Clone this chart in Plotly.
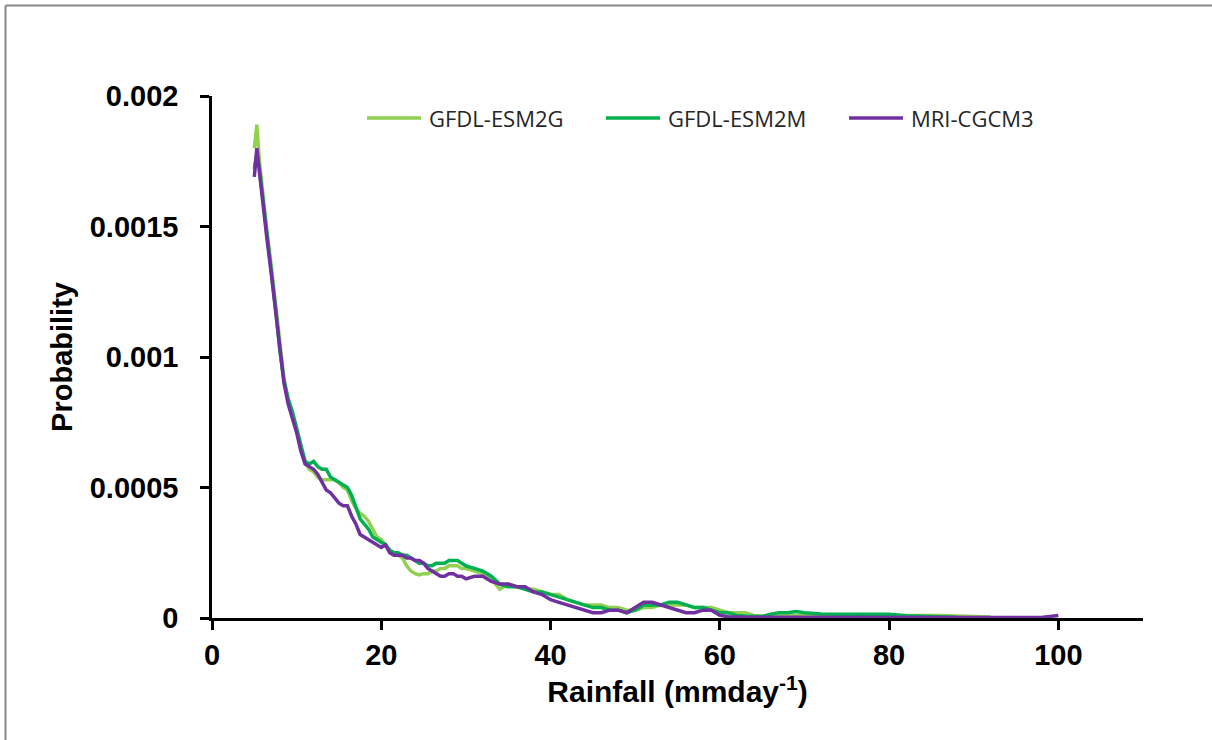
import plotly.graph_objects as go

# ---------------- data ----------------
rain = [5.0, 5.3, 5.6, 6.0, 6.5, 7.0, 7.5, 8.0, 8.5, 9.0, 9.5, 10.0, 10.5, 11.0, 11.5,
        12.0, 12.5, 13.0, 13.5, 14.0, 14.5, 15.0, 15.5, 16.0, 16.5, 17.0, 17.5, 18.0,
        18.5, 19.0, 19.5, 20.0, 20.5, 21.0, 21.5, 22.0, 22.5, 23.0, 23.5, 24.0, 24.5,
        25.0, 25.5, 26.0, 26.5, 27.0, 27.5, 28.0, 28.5, 29.0, 29.5, 30.0,
        31, 32, 33, 34, 35, 36, 37, 38, 39, 40, 41, 42, 43, 44, 45, 46, 47, 48, 49, 50,
        51, 52, 53, 54, 55, 56, 57, 58, 59, 60, 61, 62, 63, 64, 65, 66, 67, 68, 69, 70,
        72, 74, 76, 78, 80, 82, 84, 86, 88, 90, 92, 94, 96, 98, 100]

gfdl_esm2g = [0.00180, 0.00189, 0.00175, 0.00162, 0.00148, 0.00135, 0.00121, 0.00106, 0.00092, 0.00083,
              0.00078, 0.00072, 0.00065, 0.00060, 0.00057, 0.00056, 0.00054, 0.00053, 0.00053, 0.00053,
              0.00053, 0.00052, 0.00050, 0.00049, 0.00045, 0.00042, 0.00040, 0.00039, 0.00037, 0.00034,
              0.00031, 0.00030, 0.00028, 0.00026, 0.00025, 0.00024, 0.00023, 0.00020, 0.00018, 0.00017,
              0.000165, 0.00017, 0.00017, 0.00018, 0.00018, 0.00019, 0.00019, 0.00020, 0.00020, 0.00020,
              0.00019, 0.00019,
              0.00018, 0.00017, 0.00015, 0.00011, 0.00013, 0.00012, 0.00011, 0.00011, 0.00010, 0.00009,
              0.00009, 0.00007, 0.00006, 0.00005, 0.00005, 0.00005, 0.00004, 0.00004, 0.00003, 0.00003,
              0.00004, 0.00004, 0.00005, 0.00005, 0.00005, 0.00005, 0.00004, 0.00004, 0.00004, 0.00003,
              0.00002, 0.00002, 0.00002, 0.00001, 0.000008, 0.000005, 0.000008, 0.00001, 0.00001, 0.00001,
              0.00001, 0.000012, 0.000012, 0.00001, 0.000012, 0.00001, 0.000012, 0.00001, 0.000008, 0.000006,
              0.000004, None, None, None, None]

gfdl_esm2m = [0.00172, 0.00178, 0.00172, 0.00160, 0.00146, 0.00133, 0.00119, 0.00103, 0.00091, 0.00084,
              0.00079, 0.00073, 0.00066, 0.00060, 0.00059, 0.00060, 0.00058, 0.00057, 0.00057, 0.00054,
              0.00053, 0.00052, 0.00051, 0.00050, 0.00047, 0.00042, 0.00038, 0.00036, 0.00034, 0.00031,
              0.00030, 0.00029, 0.00028, 0.00026, 0.00025, 0.00025, 0.00024, 0.00024, 0.00023, 0.00022,
              0.00021, 0.00021, 0.00020, 0.00020, 0.00021, 0.00021, 0.00021, 0.00022, 0.00022, 0.00022,
              0.00021, 0.00020,
              0.00019, 0.00018, 0.00016, 0.00013, 0.00012, 0.00012, 0.00011, 0.00010, 0.00010, 0.00009,
              0.00008, 0.00007, 0.00006, 0.00005, 0.00004, 0.00004, 0.00003, 0.00003, 0.00002, 0.00003,
              0.00005, 0.00005, 0.00005, 0.00006, 0.00006, 0.00005, 0.00004, 0.00004, 0.00003, 0.00002,
              0.00002, 0.00001, 0.000008, 0.000008, 0.000006, 0.000015, 0.00002, 0.00002, 0.000025, 0.00002,
              0.000015, 0.000014, 0.000013, 0.000012, 0.000014, 0.000009, 0.000007, 0.000004, 0.000003, None,
              None, None, None, None, None]

mri_cgcm3 = [0.00169, 0.00180, 0.00171, 0.00158, 0.00145, 0.00132, 0.00118, 0.00102, 0.00090, 0.00082,
             0.00077, 0.00071, 0.00064, 0.00059, 0.00058, 0.00057, 0.00055, 0.00052, 0.00049, 0.00048,
             0.00046, 0.00044, 0.00043, 0.00043, 0.00039, 0.00036, 0.00032, 0.00031, 0.00030, 0.00029,
             0.00028, 0.00027, 0.00028, 0.00025, 0.00024, 0.00024, 0.00024, 0.00023, 0.00023, 0.00022,
             0.00022, 0.00021, 0.00019, 0.00018, 0.00017, 0.00016, 0.00016, 0.00017, 0.00017, 0.00016,
             0.00016, 0.00015,
             0.00016, 0.00016, 0.00014, 0.00013, 0.00013, 0.00012, 0.00012, 0.00010, 0.00009, 0.00007,
             0.00006, 0.00005, 0.00004, 0.00003, 0.00002, 0.00002, 0.00003, 0.00003, 0.00002, 0.00004,
             0.00006, 0.00006, 0.00005, 0.00004, 0.00003, 0.00002, 0.00002, 0.00003, 0.00003, 0.00001,
             0.000005, 0.000003, 0.000003, 0.000003, 0.000003, 0.000003, 0.000004, 0.000005, 0.000004, 0.000004,
             0.000003, 0.000003, 0.000003, 0.000002, 0.000002, 0.000002, 0.000002, 0.000002, 0.000002, 0.000002,
             0.000002, 0.000002, 0.000002, 0.000002, 0.00001]

series_names = ["GFDL-ESM2G", "GFDL-ESM2M", "MRI-CGCM3"]
series_colors = ["#92D050", "#00B050", "#7030A0"]

x_tickvals = [0, 20, 40, 60, 80, 100]
y_tickvals = [0, 0.0005, 0.001, 0.0015, 0.002]
y_ticktext = ["0", "0.0005", "0.001", "0.0015", "0.002"]

# ---------------- layout geometry (pixels) ----------------
W, H = 1212, 740
L, R, T, B = 212, 69, 96, 122
PW, PH = W - L - R, H - T - B

def px_x(p):
    return (p - L) / PW

def px_y(p):
    return (H - B - p) / PH

# ---------------- figure ----------------
fig = go.Figure()
for name, vals, col in zip(series_names, [gfdl_esm2g, gfdl_esm2m, mri_cgcm3], series_colors):
    fig.add_trace(go.Scatter(x=rain, y=vals, mode="lines", name=name,
                             line=dict(color=col, width=3.5), connectgaps=False))

tick_font = dict(family="Liberation Sans, Arial, sans-serif", size=29, color="black", weight="bold")
xtitle_font = dict(family="Liberation Sans, Arial, sans-serif", size=30, color="black", weight="bold")
ytitle_font = dict(family="Liberation Sans, Arial, sans-serif", size=29, color="black", weight="bold")
legend_font = dict(family="Open Sans, Noto Sans, sans-serif", size=22, color="#262626")

# outer frame: only the left and top edges are visible in the original
shapes = [
    dict(type="line", xref="paper", yref="paper",
         x0=px_x(5.5), x1=px_x(5.5), y0=px_y(H), y1=px_y(5.5),
         line=dict(color="#888888", width=2), layer="below"),
    dict(type="line", xref="paper", yref="paper",
         x0=px_x(5.5), x1=px_x(W), y0=px_y(5.5), y1=px_y(5.5),
         line=dict(color="#888888", width=2), layer="below"),
]

# manual legend (long line samples like the original)
legend_line_px = [(367, 421), (606, 660), (849, 903)]
legend_y_px = 118
annotations = []
for (a, b), name, col in zip(legend_line_px, series_names, series_colors):
    shapes.append(dict(type="line", xref="paper", yref="paper",
                       x0=px_x(a), x1=px_x(b), y0=px_y(legend_y_px), y1=px_y(legend_y_px),
                       line=dict(color=col, width=3.5)))
    annotations.append(dict(xref="paper", yref="paper", x=px_x(b + 6), y=px_y(legend_y_px),
                            text=name, showarrow=False, xanchor="left", yanchor="middle",
                            font=legend_font))

fig.update_layout(
    width=W, height=H,
    margin=dict(l=L, r=R, t=T, b=B),
    paper_bgcolor="white", plot_bgcolor="white",
    showlegend=False,
    xaxis=dict(range=[0, 110], tickvals=x_tickvals, showgrid=False, zeroline=False,
               showline=True, linecolor="black", linewidth=2.5,
               ticks="outside", ticklen=9, tickwidth=2.5, tickcolor="black",
               tickfont=tick_font, ticklabelstandoff=0,
               title=dict(text="Rainfall (mmday<sup>-1</sup>)", font=xtitle_font, standoff=10)),
    yaxis=dict(range=[0, 0.002], tickvals=y_tickvals, ticktext=y_ticktext, showgrid=False,
               zeroline=False, showline=True, linecolor="black", linewidth=2.5,
               ticks="outside", ticklen=9, tickwidth=2.5, tickcolor="black",
               tickfont=tick_font, ticklabelstandoff=16,
               title=dict(text="Probability", font=ytitle_font, standoff=9)),
    shapes=shapes,
    annotations=annotations,
)

fig.write_html("out.html", config={"displayModeBar": False},
               post_script="document.body.style.margin='0';"
                           "document.body.style.overflow='hidden';"
                           "document.documentElement.style.overflow='hidden';")
